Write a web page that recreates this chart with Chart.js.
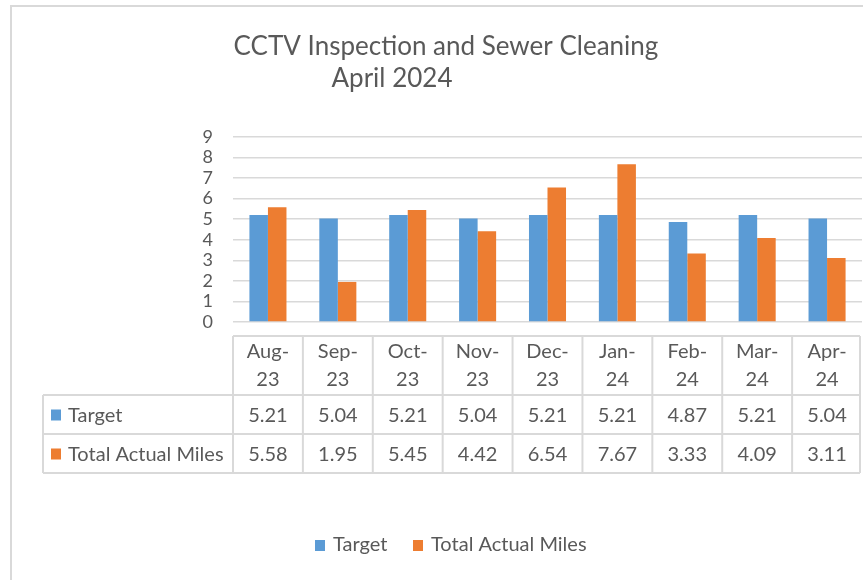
<!DOCTYPE html>
<html>
<head>
<meta charset="utf-8">
<title>CCTV Inspection and Sewer Cleaning</title>
<script src="https://cdn.jsdelivr.net/npm/chart.js@4.4.1/dist/chart.umd.min.js"></script>
<style>
  html, body { margin: 0; padding: 0; background: #fff; }
  #wrap { width: 863px; height: 580px; position: relative; }
</style>
</head>
<body>
<div id="wrap"><canvas id="chart" width="863" height="580"></canvas></div>
<script>
// chart data
const titleLines = ['CCTV Inspection and Sewer Cleaning', 'April 2024'];
const months = ['Aug-23', 'Sep-23', 'Oct-23', 'Nov-23', 'Dec-23', 'Jan-24', 'Feb-24', 'Mar-24', 'Apr-24'];
const seriesNames = ['Target', 'Total Actual Miles'];
const targetMiles = [5.21, 5.04, 5.21, 5.04, 5.21, 5.21, 4.87, 5.21, 5.04];
const actualMiles = [5.58, 1.95, 5.45, 4.42, 6.54, 7.67, 3.33, 4.09, 3.11];
const yTicks = [0, 1, 2, 3, 4, 5, 6, 7, 8, 9];

const blue = '#5B9BD5';
const orange = '#ED7D31';
const textColor = '#595959';
const lineColor = '#D9D9D9';
const fontFamily = 'Lato, "Noto Sans", sans-serif';

// title, data table and legend drawn around the plot
const extrasPlugin = {
    id: 'extras',
    beforeDraw(chart) {
        const ctx = chart.ctx;
        ctx.save();
        ctx.strokeStyle = lineColor;
        ctx.lineWidth = 2;
        ctx.beginPath();
        ctx.moveTo(11, 600);
        ctx.lineTo(11, 6);
        ctx.lineTo(900, 6);
        ctx.stroke();
        ctx.restore();
    },
    afterDraw(chart) {
        const ctx = chart.ctx;
        const area = chart.chartArea;
        const x = chart.scales.x;
        const catW = (area.right - area.left) / months.length;
        const tableRight = area.right - 2;

        ctx.save();

        // title
        ctx.fillStyle = textColor;
        ctx.font = '26px ' + fontFamily;
        ctx.textAlign = 'center';
        ctx.textBaseline = 'alphabetic';
        ctx.fillText(titleLines[0], 446, 55);
        ctx.fillText(titleLines[1], 392, 87);

        // table grid
        const headTop = area.bottom + 14;
        const row1 = headTop + 59;
        const row2 = row1 + 39;
        const row3 = row2 + 39;
        const legendLeft = 43;

        ctx.strokeStyle = lineColor;
        ctx.lineWidth = 2;
        ctx.beginPath();
        ctx.moveTo(area.left, headTop);
        ctx.lineTo(tableRight, headTop);
        [row1, row2, row3].forEach(function (y) {
            ctx.moveTo(legendLeft, y);
            ctx.lineTo(tableRight, y);
        });
        ctx.moveTo(legendLeft, row1);
        ctx.lineTo(legendLeft, row3);
        for (let i = 0; i <= months.length; i++) {
            const bx = Math.min(area.left + i * catW, tableRight);
            ctx.moveTo(bx, headTop);
            ctx.lineTo(bx, row3);
        }
        ctx.stroke();

        // table values
        ctx.font = '20px ' + fontFamily;
        ctx.textBaseline = 'middle';
        ctx.textAlign = 'center';
        const rows = [targetMiles, actualMiles];
        const rowMid = [(row1 + row2) / 2 + 1, (row2 + row3) / 2 + 1];
        rows.forEach(function (vals, r) {
            vals.forEach(function (v, i) {
                ctx.fillText(v.toFixed(2), x.getPixelForValue(i), rowMid[r]);
            });
        });

        // series names in the table
        const colors = [blue, orange];
        ctx.textAlign = 'left';
        seriesNames.forEach(function (name, r) {
            ctx.fillStyle = colors[r];
            ctx.fillRect(51, rowMid[r] - 6, 10, 11);
            ctx.fillStyle = textColor;
            ctx.fillText(name, 68, rowMid[r]);
        });

        // bottom legend
        const legY = 545;
        const legX = [315, 413];
        seriesNames.forEach(function (name, r) {
            ctx.fillStyle = colors[r];
            ctx.fillRect(legX[r], legY - 5, 10, 11);
            ctx.fillStyle = textColor;
            ctx.fillText(name, legX[r] + 18, legY);
        });

        ctx.restore();
    }
};

new Chart(document.getElementById('chart'), {
    type: 'bar',
    data: {
        labels: months.map(m => [m.slice(0, 4), m.slice(4)]),
        datasets: [{
            label: seriesNames[0],
            data: targetMiles,
            backgroundColor: blue,
            barPercentage: 1,
            categoryPercentage: 0.53
        }, {
            label: seriesNames[1],
            data: actualMiles,
            backgroundColor: orange,
            barPercentage: 1,
            categoryPercentage: 0.53
        }]
    },
    options: {
        responsive: false,
        animation: false,
        devicePixelRatio: 1,
        layout: {
            padding: { top: 137, left: 0, right: 1, bottom: 580 - 322 - 80 }
        },
        plugins: {
            legend: { display: false },
            title: { display: false },
            tooltip: { enabled: false }
        },
        scales: {
            x: {
                grid: { display: false, drawTicks: false },
                border: { display: false },
                ticks: {
                    color: textColor,
                    font: { family: fontFamily, size: 20, lineHeight: 1.4 },
                    padding: 16,
                    maxRotation: 0,
                    autoSkip: false
                },
                afterFit(scale) { scale.height = 80; }
            },
            y: {
                min: 0,
                max: 9,
                afterBuildTicks(scale) { scale.ticks = yTicks.map(v => ({ value: v })); },
                grid: { color: lineColor, lineWidth: 1.5, drawTicks: false },
                border: { display: false },
                ticks: {
                    color: textColor,
                    font: { family: fontFamily, size: 18 },
                    padding: 20,
                    autoSkip: false
                },
                afterFit(scale) { scale.width = 233; }
            }
        }
    },
    plugins: [extrasPlugin]
});
</script>
</body>
</html>
